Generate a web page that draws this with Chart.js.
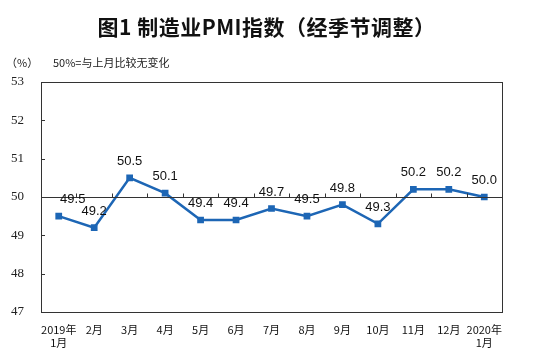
<!DOCTYPE html>
<html>
<head>
<meta charset="utf-8">
<script src="https://cdn.jsdelivr.net/npm/chart.js@4.4.0/dist/chart.umd.min.js"></script>
<style>
  body { margin: 0; background: #fff; }
  #wrap { position: relative; width: 533px; height: 363px; }
  #title { position: absolute; left: 0; top: 11px; width: 533px; text-align: center;
    font: bold 21px "Noto Sans CJK SC", sans-serif; color: #111; letter-spacing: 0.5px; }
  .note { position: absolute; top: 54px; font: 11px "Noto Sans CJK SC", sans-serif; color: #222; }
</style>
</head>
<body>
<div id="wrap">
  <div id="title">图1 制造业PMI指数（经季节调整）</div>
  <div class="note" style="left:6px">（%）</div>
  <div class="note" style="left:53px">50%=与上月比较无变化</div>
  <canvas id="pmiChart" width="533" height="363"></canvas>
</div>
<script>
const months = [["2019年", "1月"], "2月", "3月", "4月", "5月", "6月", "7月",
  "8月", "9月", "10月", "11月", "12月", ["2020年", "1月"]];
const pmiValues = [49.5, 49.2, 50.5, 50.1, 49.4, 49.4, 49.7, 49.5, 49.8, 49.3, 50.2, 50.2, 50.0];
const yMin = 47;
const yMax = 53;
const baseLine = 50;

// frame, 50 line with small ticks, inward y ticks, value labels
const decor = {
  id: "decor",
  afterDatasetsDraw(chart) {
    const { ctx, chartArea: a, scales } = chart;
    const x = scales.x, y = scales.y;
    ctx.save();
    ctx.strokeStyle = "#333";
    ctx.lineWidth = 1;
    ctx.strokeRect(a.left + 0.5, a.top + 0.5, a.right - a.left, a.bottom - a.top);

    const yb = Math.round(y.getPixelForValue(baseLine)) + 0.5;
    ctx.beginPath();
    ctx.moveTo(a.left, yb);
    ctx.lineTo(a.right, yb);
    for (let i = 1; i < months.length; i++) {
      const xb = Math.round((x.getPixelForValue(i - 1) + x.getPixelForValue(i)) / 2) + 0.5;
      ctx.moveTo(xb, yb);
      ctx.lineTo(xb, yb - 4);
    }
    y.ticks.forEach((t) => {
      const yy = Math.round(y.getPixelForValue(t.value)) + 0.5;
      ctx.moveTo(a.left, yy);
      ctx.lineTo(a.left + 4, yy);
    });
    ctx.stroke();

    ctx.fillStyle = "#111";
    ctx.font = '13px "Liberation Sans", Arial, sans-serif';
    ctx.textAlign = "center";
    ctx.textBaseline = "bottom";
    const meta = chart.getDatasetMeta(0);
    meta.data.forEach((pt, i) => {
      const dx = i === 0 ? 14 : 0;
      ctx.fillText(pmiValues[i].toFixed(1), pt.x + dx, pt.y - 10);
    });
    ctx.restore();
  },
};

new Chart(document.getElementById("pmiChart").getContext("2d"), {
  type: "line",
  data: {
    labels: months,
    datasets: [
      {
        label: "PMI",
        data: pmiValues,
        borderColor: "#1d66b5",
        backgroundColor: "#1d66b5",
        borderWidth: 2.5,
        pointStyle: "rect",
        pointRadius: 3,
        tension: 0,
      },
    ],
  },
  options: {
    responsive: false,
    animation: false,
    layout: { padding: { top: 82, right: 31, left: 0, bottom: 0 } },
    plugins: { legend: { display: false }, tooltip: { enabled: false } },
    scales: {
      x: {
        offset: true,
        grid: { display: false },
        border: { display: false },
        afterFit: (s) => { s.height = 51; },
        ticks: {
          maxRotation: 0,
          autoSkip: false,
          padding: 3,
          color: "#111",
          font: { family: "Noto Sans CJK SC", size: 11 },
        },
      },
      y: {
        min: yMin,
        max: yMax,
        grid: { display: false },
        border: { display: false },
        afterFit: (s) => { s.width = 41; },
        ticks: {
          stepSize: 1,
          padding: 9,
          color: "#222",
          font: { family: "Times New Roman, Liberation Serif, serif", size: 13 },
        },
      },
    },
  },
  plugins: [decor],
});
</script>
</body>
</html>
